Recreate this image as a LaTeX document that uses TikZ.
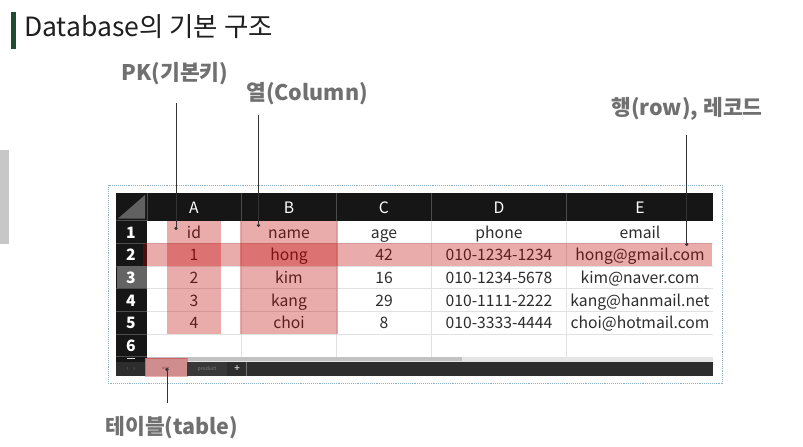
\documentclass[tikz,border=0pt]{standalone}
\usepackage{fontspec}
\setmainfont{Noto Sans CJK KR}
\usetikzlibrary{arrows.meta}
\definecolor{labgrey}{RGB}{112,112,112}
\definecolor{celltext}{RGB}{45,45,45}
\definecolor{hdrblack}{RGB}{22,22,22}
\definecolor{selgrey}{RGB}{100,100,100}
\definecolor{gridgrey}{RGB}{225,225,225}
\definecolor{hlred}{RGB}{192,0,0}
\definecolor{tabdark}{RGB}{45,45,45}
\definecolor{boxblue}{RGB}{140,175,200}
\definecolor{titlegreen}{RGB}{30,77,51}
\tikzset{
  lab/.style={font=\fontsize{21.5}{23}\selectfont\bfseries, text=labgrey, inner sep=0pt, anchor=base},
  cell/.style={font=\fontsize{15.7}{17}\selectfont, text=celltext, inner sep=0pt, anchor=base},
  hdr/.style={font=\fontsize{15.7}{17}\selectfont, text=white, inner sep=0pt, anchor=base},
  rhdr/.style={font=\fontsize{15.7}{17}\selectfont\bfseries, text=white, inner sep=0pt, anchor=base},
  conn/.style={draw=black!80, line width=0.8pt, -{Circle[length=3.2pt]}},
  hl/.style={fill=hlred, fill opacity=0.33},
}
\begin{document}
\begin{tikzpicture}[x=1pt,y=-1pt]
\useasboundingbox (0,0) rectangle (803,447);
\fill[white] (0,0) rectangle (803,447);
% left grey block
\fill[black!22] (0,150) rectangle (9,244);
% title
\fill[titlegreen] (11,12) rectangle (16,49);
\node[font=\fontsize{26.5}{28}\selectfont, text=black!88, anchor=base west, inner sep=0pt] (title) at (24,36) {Database의 기본 구조};
% outer dotted frame
\draw[boxblue, densely dotted, line width=0.9pt] (108,185) rectangle (722,383);
% spreadsheet body
\fill[hdrblack] (116,193) rectangle (713,376);
\fill[white] (147,220.5) rectangle (713,356.5);
% grid
\foreach \y in {243.3,266,288.5,311.5,334} \draw[gridgrey, line width=0.6pt] (147,\y) -- (713,\y);
\foreach \x in {241.5,336.5,431,566.5} \draw[gridgrey, line width=0.6pt] (\x,220.5) -- (\x,356.5);
% header separators
\foreach \x in {147,241.5,336.5,431,566.5} \draw[black!70, line width=0.6pt] (\x,193) -- (\x,220.5);
\foreach \y in {220.5,243.3,266,288.5,311.5,334,356.5} \draw[black!70, line width=0.6pt] (116,\y) -- (147,\y);
% selected row header 3
\fill[selgrey] (116.5,266.4) rectangle (146.6,288.1);
% corner triangle
\fill[black!62] (118,218.5) -- (145,218.5) -- (145,195) -- cycle;
% column headers
\node[hdr] (hA) at (194,213.5) {A};
\node[hdr] (hB) at (289,213.5) {B};
\node[hdr] (hC) at (384,213.5) {C};
\node[hdr] (hD) at (499,213.5) {D};
\node[hdr] (hE) at (640,213.5) {E};
% row headers
\node[rhdr] (r1) at (131,238.3) {1};
\node[rhdr] (r2) at (131,260.9) {2};
\node[rhdr] (r3) at (131,283.5) {3};
\node[rhdr] (r4) at (131,306) {4};
\node[rhdr] (r5) at (131,328.5) {5};
\node[rhdr] (r6) at (131,351) {6};
\fill[white!85!black] (127,357.6) rectangle (135,359.4);
% cells
\node[cell] (a1) at (194,238.3) {id};
\node[cell] (b1) at (289,238.3) {name};
\node[cell] (c1) at (384,238.3) {age};
\node[cell] (d1) at (499,238.3) {phone};
\node[cell] (e1) at (640,238.3) {email};
\node[cell] (a2) at (194,260.9) {1};
\node[cell] (b2) at (289,260.9) {hong};
\node[cell] (c2) at (384,260.9) {42};
\node[cell] (d2) at (499,260.9) {010-1234-1234};
\node[cell] (e2) at (640,260.9) {hong@gmail.com};
\node[cell] (a3) at (194,283.5) {2};
\node[cell] (b3) at (289,283.5) {kim};
\node[cell] (c3) at (384,283.5) {16};
\node[cell] (d3) at (499,283.5) {010-1234-5678};
\node[cell] (e3) at (640,283.5) {kim@naver.com};
\node[cell] (a4) at (194,306) {3};
\node[cell] (b4) at (289,306) {kang};
\node[cell] (c4) at (384,306) {29};
\node[cell] (d4) at (499,306) {010-1111-2222};
\node[cell] (e4) at (640,306) {kang@hanmail.net};
\node[cell] (a5) at (194,328.5) {4};
\node[cell] (b5) at (289,328.5) {choi};
\node[cell] (c5) at (384,328.5) {8};
\node[cell] (d5) at (499,328.5) {010-3333-4444};
\node[cell] (e5) at (640,328.5) {choi@hotmail.com};
% scrollbar
\fill[black!10] (147,356.5) rectangle (713,361.5);
\fill[black!24] (147,356.8) rectangle (462,360.5);
% tab bar
\fill[tabdark] (116,361.5) rectangle (713,376);
\node[font=\fontsize{6}{6}\selectfont, text=black!55, inner sep=0pt] (arrows) at (131,369) {‹\hspace{5pt}›};
\fill[white!85!black] (145,358) rectangle (187,376);
\node[font=\fontsize{4}{4}\selectfont, text=black!60, inner sep=0pt] (tabuser) at (166,368) {user};
\fill[black!78] (187,362) rectangle (227,376);
\node[font=\fontsize{5}{5}\selectfont, text=black!50, inner sep=0pt] (tabprod) at (207,369) {product};
\node[font=\fontsize{9}{9}\selectfont\bfseries, text=black!25, inner sep=0pt] (tabplus) at (237,368.5) {+};
\draw[black!55, line width=0.6pt] (246.5,362) -- (246.5,376);
% highlights
\fill[hl] (166.7,220.5) rectangle (220.7,334);
\fill[hl] (240,220.5) rectangle (337.5,334);
\fill[hl] (143,243.3) rectangle (711.7,266);
\fill[hlred, fill opacity=0.35, draw=hlred, draw opacity=0.3, line width=0.8pt] (145,358) rectangle (187,376);
% labels
\node[lab] (pk) at (175,80) {PK(기본키)};
\node[lab] (col) at (307,100) {열(Column)};
\node[lab] (row) at (687,115) {행(row), 레코드};
\node[lab] (tbl) at (172,434) {테이블(table)};
% connector ends
\coordinate (pktop) at (176,103);
\coordinate (pkdot) at (176,230);
\coordinate (coltop) at (258.5,115);
\coordinate (coldot) at (258.5,227);
\coordinate (rowtop) at (686.7,135);
\coordinate (rowdot) at (686.7,246);
\coordinate (tblbot) at (167,403);
\coordinate (tbldot) at (167,368);
\draw[conn] (pktop) -- (pkdot);
\draw[conn] (coltop) -- (coldot);
\draw[conn] (rowtop) -- (rowdot);
\draw[conn] (tblbot) -- (tbldot);
\end{tikzpicture}
\end{document}
